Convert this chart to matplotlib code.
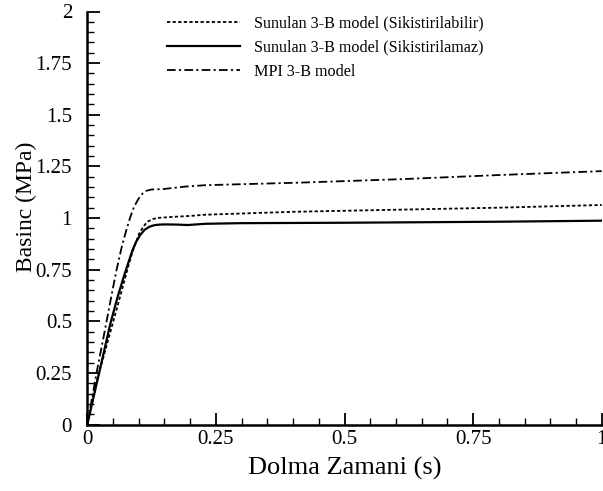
import matplotlib
matplotlib.use('Agg')
import matplotlib.pyplot as plt
from matplotlib.ticker import MultipleLocator, FuncFormatter

t_comp = [0, 0.012, 0.025, 0.045, 0.06, 0.072, 0.08, 0.088, 0.095, 0.101, 0.109, 0.117, 0.127,
          0.14, 0.17, 0.2, 0.23, 0.4, 0.6, 0.8, 1.0]
p_comp = [0, 0.15, 0.27, 0.45, 0.585, 0.695, 0.77, 0.837, 0.885, 0.926, 0.958, 0.982, 0.995,
          1.001, 1.006, 1.01, 1.016, 1.03, 1.04, 1.05, 1.063]

t_incomp = [0, 0.023, 0.044, 0.058, 0.069, 0.076, 0.082, 0.088, 0.095, 0.103, 0.111, 0.12, 0.13,
            0.14, 0.153, 0.175, 0.195, 0.23, 0.3, 0.5, 0.8, 1.0]
p_incomp = [0, 0.25, 0.48, 0.61, 0.70, 0.755, 0.80, 0.845, 0.885, 0.918, 0.942, 0.957, 0.965,
            0.968, 0.969, 0.968, 0.966, 0.972, 0.975, 0.977, 0.982, 0.987]

t_mpi = [0, 0.018, 0.036, 0.049, 0.057, 0.066, 0.075, 0.083, 0.091, 0.1, 0.108, 0.115,
         0.125, 0.147, 0.19, 0.23, 0.41, 0.61, 0.8, 1.0]
p_mpi = [0, 0.25, 0.48, 0.65, 0.75, 0.85, 0.934, 1.0, 1.055, 1.095, 1.12, 1.132,
         1.138, 1.14, 1.152, 1.159, 1.171, 1.188, 1.208, 1.227]

labels = ['Sunulan 3-B model (Sikistirilabilir)',
          'Sunulan 3-B model (Sikistirilamaz)',
          'MPI 3-B model']

plt.rcParams['font.family'] = ['Liberation Serif', 'DejaVu Serif']

fig = plt.figure(figsize=(6.03, 4.91), dpi=100)
ax = fig.add_axes([87.3/603, 66.5/491, 514.4/603, 413/491])

ax.plot(t_comp, p_comp, color='black', lw=1.3, linestyle=(0, (1.8, 1.3)), label=labels[0])
ax.plot(t_incomp, p_incomp, color='black', lw=1.6, linestyle='-', label=labels[1])
ax.plot(t_mpi, p_mpi, color='black', lw=1.3, linestyle=(0, (4.8, 1.8, 1.2, 1.8)), label=labels[2])

ax.set_xlim(0, 1)
ax.set_ylim(0, 2)
ax.spines['top'].set_visible(False)
ax.spines['right'].set_visible(False)
ax.spines['left'].set_linewidth(1.8)
ax.spines['bottom'].set_linewidth(1.8)

ax.xaxis.set_major_locator(MultipleLocator(0.25))
ax.xaxis.set_minor_locator(MultipleLocator(0.05))
ax.yaxis.set_major_locator(MultipleLocator(0.25))
ax.yaxis.set_minor_locator(MultipleLocator(0.05))
fmt = FuncFormatter(lambda v, pos: ('%g' % v))
ax.xaxis.set_major_formatter(fmt)
ax.yaxis.set_major_formatter(fmt)

ax.tick_params(which='both', direction='in', top=False, right=False)
ax.tick_params(which='major', length=9, width=1.3, labelsize=15)
ax.tick_params(which='minor', length=5, width=1.0)
ax.tick_params(axis='y', which='major', pad=11)
ax.tick_params(axis='x', which='major', pad=4)

ax.set_xlabel('Dolma Zamani (s)', fontsize=19, labelpad=6)
ax.set_ylabel('Basinc (MPa)', fontsize=17, va='center')
ax.yaxis.set_label_coords((26 - 87.3) / 514.4, (424.5 - 207) / 413)

ax.legend(loc='upper left', bbox_to_anchor=(167/603, 1 - 15.5/491), bbox_transform=fig.transFigure,
          frameon=False, fontsize=11.6, handlelength=4.5, handletextpad=0.87,
          labelspacing=0.5, borderpad=0, borderaxespad=0)

fig.savefig('out.png', dpi=100)
